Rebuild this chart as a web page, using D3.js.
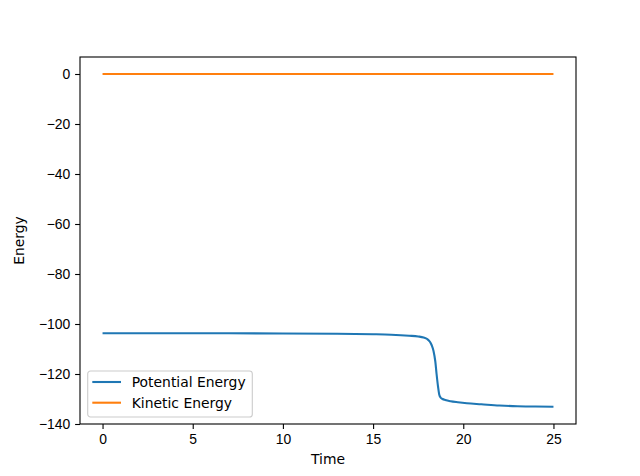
<!DOCTYPE html>
<html>
<head>
<meta charset="utf-8">
<script src="https://d3js.org/d3.v7.min.js"></script>
<style>
  body { margin: 0; background: #fff; }
  svg { font-family: "DejaVu Sans", sans-serif; }
  .tick text { font-size: 13.9px; fill: #000; }
</style>
</head>
<body>
<div id="chart"></div>
<script>
// values
var time = [0, 5, 10, 13, 15, 16, 17, 17.5, 17.8, 18.0, 18.15, 18.25, 18.35, 18.45, 18.52,
            18.6, 18.67, 18.75, 18.85, 19.0, 19.3, 19.7, 20.2, 21, 22, 23, 24, 25];
var potential = [-103.7, -103.7, -103.8, -103.9, -104.1, -104.3, -104.7, -105.0, -105.4, -106.0,
                 -107.1, -108.5, -110.8, -115, -120, -125, -128.3, -129.5, -130.0, -130.4,
                 -130.9, -131.3, -131.7, -132.1, -132.6, -132.9, -133.0, -133.1];
var kineticTime = [0, 5, 10, 15, 20, 25];
var kinetic = [0, 0, 0, 0, 0, 0];
var xTicks = [0, 5, 10, 15, 20, 25];
var yTicks = [0, -20, -40, -60, -80, -100, -120, -140];
var seriesNames = ["Potential Energy", "Kinetic Energy"];
var colors = ["#1f77b4", "#ff7f0e"];

var width = 640, height = 476;
var margin = {top: 57, right: 64, bottom: 52, left: 80};
var plotW = width - margin.left - margin.right;
var plotH = height - margin.top - margin.bottom;

var svg = d3.select("#chart").append("svg")
  .attr("width", width)
  .attr("height", height);

var g = svg.append("g")
  .attr("transform", "translate(" + margin.left + "," + margin.top + ")");

var x = d3.scaleLinear().domain([-1.25, 26.25]).range([0, plotW]);
var y = d3.scaleLinear().domain([-140, 6.8]).range([plotH, 0]);

var line = d3.line()
  .x(function(d) { return x(d[0]); })
  .y(function(d) { return y(d[1]); })
  .curve(d3.curveMonotoneX);

var series = [d3.zip(time, potential), d3.zip(kineticTime, kinetic)];

g.selectAll(".series")
  .data(series)
  .enter().append("path")
  .attr("class", "series")
  .attr("d", line)
  .attr("fill", "none")
  .attr("stroke", function(d, i) { return colors[i]; })
  .attr("stroke-width", 2.1);

// axes
var xAxis = g.append("g")
  .attr("transform", "translate(0," + plotH + ")")
  .call(d3.axisBottom(x).tickValues(xTicks).tickSize(4.9).tickPadding(4.9).tickFormat(d3.format("d")));
var yAxis = g.append("g")
  .call(d3.axisLeft(y).tickValues(yTicks).tickSize(4.9).tickPadding(4.9).tickFormat(d3.format("d")));

[xAxis, yAxis].forEach(function(a) {
  a.select(".domain").remove();
  a.selectAll(".tick line").attr("stroke", "#000").attr("stroke-width", 1.1);
});
xAxis.selectAll(".tick text").attr("dy", "0.75em");

// frame
g.append("rect")
  .attr("width", plotW)
  .attr("height", plotH)
  .attr("fill", "none")
  .attr("stroke", "#000")
  .attr("stroke-width", 1.1);

// labels
svg.append("text")
  .attr("x", margin.left + plotW / 2)
  .attr("y", 464)
  .attr("text-anchor", "middle")
  .style("font-size", "13.9px")
  .text("Time");

svg.append("text")
  .attr("transform", "translate(24," + (margin.top + plotH / 2) + ") rotate(-90)")
  .attr("text-anchor", "middle")
  .style("font-size", "13.9px")
  .text("Energy");

// legend
var legend = g.append("g").attr("transform", "translate(7.7," + (plotH - 53) + ")");
legend.append("rect")
  .attr("width", 164.6)
  .attr("height", 46)
  .attr("rx", 2.8)
  .attr("fill", "#fff")
  .attr("fill-opacity", 0.8)
  .attr("stroke", "#ccc")
  .attr("stroke-width", 1.1);

var items = legend.selectAll(".item")
  .data(seriesNames)
  .enter().append("g")
  .attr("class", "item")
  .attr("transform", function(d, i) { return "translate(0," + (11 + i * 20.7) + ")"; });

items.append("line")
  .attr("x1", 4.6).attr("x2", 33.3)
  .attr("stroke", function(d, i) { return colors[i]; })
  .attr("stroke-width", 2.1);

items.append("text")
  .attr("x", 44)
  .attr("dy", "0.36em")
  .style("font-size", "13.9px")
  .text(function(d) { return d; });
</script>
</body>
</html>
